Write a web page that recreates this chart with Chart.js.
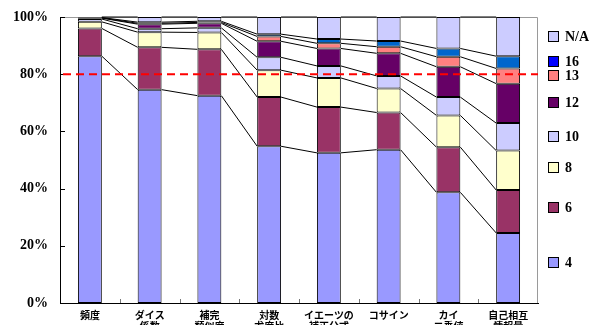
<!DOCTYPE html>
<html>
<head>
<meta charset="utf-8">
<script src="https://cdn.jsdelivr.net/npm/chart.js@4/dist/chart.umd.min.js"></script>
<style>
  html, body { margin: 0; padding: 0; background: #fff; }
  canvas { display: block; }
</style>
</head>
<body>
<canvas id="c" width="594" height="325"></canvas>
<script>
// Measures (categories on the x axis)
const categories = [
  ['頻度'],
  ['ダイス', '係数'],
  ['補完', '類似度'],
  ['対数', '尤度比'],
  ['イエーツの', '補正公式'],
  ['コサイン'],
  ['カイ', '二乗値'],
  ['自己相互', '情報量']
];

// Series names, stacked bottom to top
const seriesNames = ['4', '6', '8', '10', '12', '13', '16', 'N/A'];

// Share of each series per measure (%)
const s4  = [86.3, 74.6, 72.5, 54.8, 52.5, 53.6, 38.7, 24.5];
const s6  = [ 9.7, 14.8, 16.2, 17.2, 16.0, 13.0, 15.8, 15.0];
const s8  = [ 2.3,  5.3,  5.9,  9.4, 10.2,  8.4, 11.1, 13.8];
const s10 = [ 1.0,  1.2,  1.6,  4.5,  4.2,  4.4,  6.4,  9.6];
const s12 = [ 0.3,  1.6,  1.6,  5.6,  6.1,  7.9, 10.6, 13.8];
const s13 = [ 0.1,  0.3,  0.3,  1.7,  1.8,  2.3,  3.5,  5.3];
const s16 = [ 0.1,  0.4,  0.4,  0.8,  1.5,  2.0,  2.9,  4.3];
const sNA = [ 0.2,  1.8,  1.5,  6.0,  7.7,  8.4, 11.0, 13.7];

// Reference threshold (%)
const threshold = 80;

// Y axis tick values
const yTicks = [0, 20, 40, 60, 80, 100];

const seriesValues = [s4, s6, s8, s10, s12, s13, s16, sNA];
const barColors = ['#9999FF', '#993366', '#FFFFCC', '#CCCCFF', '#660066', '#FF8080', '#0066CC', '#CCCCFF'];
const keyColors = ['#9999FF', '#993366', '#FFFFCC', '#CCCCFF', '#660066', '#FF8080', '#0000FF', '#CCCCFF'];
const keyShift = [-6, -4, -3, -1, -1, -1, -1, -1];

const datasets = seriesNames.map((name, i) => ({
  label: name,
  data: seriesValues[i],
  backgroundColor: barColors[i],
  borderColor: '#000000',
  borderWidth: 1,
  borderSkipped: false,
  barPercentage: 0.4,
  categoryPercentage: 1.0
}));

// Gray frame on top and right of the plot area, plus inward tick marks
const framePlugin = {
  id: 'frame',
  beforeDatasetsDraw(chart) {
    const { ctx, chartArea: a } = chart;
    ctx.save();
    ctx.strokeStyle = '#9a9a9a';
    ctx.lineWidth = 1;
    ctx.beginPath();
    ctx.moveTo(a.left, a.top + 0.5);
    ctx.lineTo(a.right - 0.5, a.top + 0.5);
    ctx.lineTo(a.right - 0.5, a.bottom);
    ctx.stroke();

    const y = chart.scales.y, x = chart.scales.x;
    ctx.strokeStyle = '#000';
    yTicks.forEach(v => {
      const py = Math.round(y.getPixelForValue(v)) + 0.5;
      ctx.beginPath();
      ctx.moveTo(a.left, py);
      ctx.lineTo(a.left + 5, py);
      ctx.stroke();
    });
    ctx.strokeStyle = '#777';
    for (let i = 0; i < categories.length - 1; i++) {
      const px = Math.round((x.getPixelForValue(i) + x.getPixelForValue(i + 1)) / 2) + 0.5;
      ctx.beginPath();
      ctx.moveTo(px, a.bottom);
      ctx.lineTo(px, a.bottom - 4);
      ctx.stroke();
    }
    ctx.restore();
  }
};

// Series lines joining the segment tops of neighbouring bars, plus the 80% line
const seriesLinePlugin = {
  id: 'seriesLines',
  afterDatasetsDraw(chart) {
    const { ctx, chartArea: a } = chart;
    ctx.save();
    ctx.strokeStyle = '#000';
    ctx.lineWidth = 1;
    chart.data.datasets.forEach((ds, d) => {
      const els = chart.getDatasetMeta(d).data;
      for (let i = 0; i < els.length - 1; i++) {
        const e1 = els[i], e2 = els[i + 1];
        ctx.beginPath();
        ctx.moveTo(e1.x + e1.width / 2, e1.y);
        ctx.lineTo(e2.x - e2.width / 2, e2.y);
        ctx.stroke();
      }
    });
    const py = chart.scales.y.getPixelForValue(threshold);
    ctx.strokeStyle = '#FF0000';
    ctx.lineWidth = 2;
    ctx.setLineDash([8, 5]);
    ctx.beginPath();
    ctx.moveTo(a.left + 3, py);
    ctx.lineTo(a.right, py);
    ctx.stroke();
    ctx.restore();
  }
};

// Key drawn beside the last bar, each entry level with its segment
const keyPlugin = {
  id: 'sideKey',
  afterDraw(chart) {
    const { ctx } = chart;
    const last = categories.length - 1;
    ctx.save();
    ctx.font = 'bold 14px "Liberation Serif", "Times New Roman", serif';
    ctx.textBaseline = 'middle';
    ctx.textAlign = 'left';
    chart.data.datasets.forEach((ds, d) => {
      const el = chart.getDatasetMeta(d).data[last];
      const cy = Math.round((el.y + el.base) / 2) + keyShift[d];
      ctx.fillStyle = keyColors[d];
      ctx.fillRect(548, cy - 5, 11, 11);
      ctx.strokeStyle = '#000';
      ctx.lineWidth = 1;
      ctx.strokeRect(548.5, cy - 4.5, 10, 10);
      ctx.fillStyle = '#000';
      ctx.fillText(ds.label, 565, cy + 1);
    });
    ctx.restore();
  }
};

new Chart(document.getElementById('c'), {
  type: 'bar',
  data: { labels: categories, datasets },
  options: {
    responsive: false,
    animation: false,
    layout: { padding: { top: 17, right: 56, left: 0, bottom: 0 } },
    plugins: { legend: { display: false }, tooltip: { enabled: false } },
    scales: {
      x: {
        stacked: true,
        afterFit(s) { s.height = 22; s.paddingLeft = 0; s.paddingRight = 0; },
        grid: { display: false, drawTicks: false },
        border: { display: true, color: '#000', width: 1 },
        ticks: {
          autoSkip: false,
          maxRotation: 0,
          padding: 7,
          color: '#000',
          font: { family: '"Noto Sans CJK JP", sans-serif', size: 10, weight: 'bold', lineHeight: 1.1 }
        }
      },
      y: {
        stacked: true,
        min: 0,
        max: 100,
        afterFit(s) { s.width = 60; s.paddingTop = 0; s.paddingBottom = 0; },
        afterBuildTicks(s) { s.ticks = yTicks.map(v => ({ value: v })); },
        grid: { display: false, drawTicks: false },
        border: { display: true, color: '#000', width: 1 },
        ticks: {
          padding: 12,
          color: '#000',
          font: { family: '"Liberation Serif", "Times New Roman", serif', size: 14, weight: 'bold' },
          callback: v => v + '%'
        }
      }
    }
  },
  plugins: [framePlugin, seriesLinePlugin, keyPlugin]
});
</script>
</body>
</html>
